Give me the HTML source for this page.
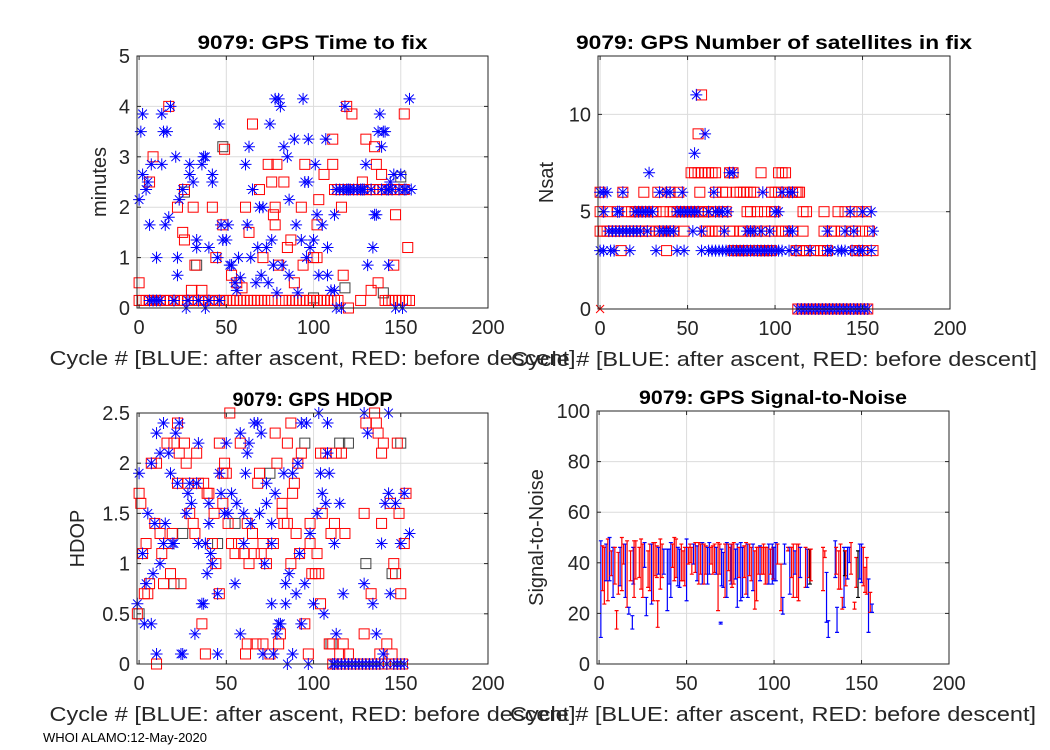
<!DOCTYPE html>
<html><head><meta charset="utf-8"><style>
body{margin:0;background:#fff;}
svg{display:block;font-family:"Liberation Sans",Arial,sans-serif;}
</style></head><body>
<svg id="fig" width="1050" height="750" viewBox="0 0 1050 750" xmlns="http://www.w3.org/2000/svg"></svg>
<script>
// ---------- Data ----------
const timeBlue = [[0,2.15],[1,3.5],[2,3.85],[2,2.65],[4,2.35],[5,2.5],[6,1.65],[7,2.85],[10,1.0],[13,2.85],[13,3.85],[14,3.5],[15,1.65],[16,3.5],[17,1.8],[18,4.0],[21,3.0],[22,0.65],[22,1.0],[23,2.15],[25,2.35],[27,0.0],[29,2.65],[29,2.85],[31,2.5],[33,1.35],[33,1.2],[36,2.85],[37,3.0],[38,0.0],[38,3.0],[40,1.2],[42,2.5],[42,2.65],[45,1.0],[46,3.65],[47,1.65],[48,1.35],[50,1.35],[51,1.65],[52,0.85],[53,0.85],[55,0.5],[56,0.35],[57,1.0],[58,0.6],[61,2.85],[62,1.65],[63,3.2],[64,1.0],[65,2.35],[67,0.5],[68,1.2],[69,2.0],[70,0.65],[71,2.0],[73,1.2],[74,0.5],[75,3.65],[76,1.35],[77,0.85],[78,4.15],[79,0.3],[80,4.15],[81,4.0],[82,0.85],[83,3.2],[85,3.0],[86,2.15],[86,0.65],[89,3.35],[90,1.65],[91,0.3],[93,1.35],[94,4.15],[95,2.5],[96,1.0],[97,2.5],[97,3.35],[98,1.2],[100,1.35],[101,2.85],[102,1.85],[103,0.65],[105,1.65],[107,3.35],[108,1.2],[108,0.65],[110,0.35],[112,0.35],[113,0.0],[112,1.85],[115,2.35],[116,0.0],[118,4.0],[120,2.35],[125,2.35],[128,2.35],[130,2.85],[131,0.85],[134,1.2],[135,1.85],[136,1.85],[137,3.5],[138,3.85],[139,3.2],[140,3.5],[141,3.5],[142,2.35],[143,0.85],[144,2.5],[145,2.35],[146,2.65],[147,0.0],[150,2.65],[151,0.0],[152,2.35],[155,4.15],
[113,2.35],[117,2.35],[119,2.35],[121,2.35],[123,2.35],[127,2.35],[129,2.35],[133,2.35],[139,2.35],[143,2.35],[149,2.35],[153,2.35],[156,2.35],
[6,0.15],[8,0.15],[10,0.15],[12,0.15],[20,0.15],[28,0.15],[34,0.15],[40,0.15],[46,0.15]];
const timeRed = [[0,0.5],[8,3.0],[6,2.5],[17,4.0],[22,2.0],[25,1.5],[26,1.35],[26,2.35],[30,0.35],[31,2.0],[32,0.85],[36,0.35],[42,2.0],[44,1.0],[48,1.65],[49,3.15],[53,0.65],[56,0.5],[59,0.4],[61,2.0],[63,1.5],[65,3.65],[69,2.35],[71,1.0],[74,2.85],[76,2.5],[77,1.85],[78,1.65],[78,2.0],[79,2.85],[80,0.85],[83,2.5],[85,1.2],[87,1.35],[89,0.5],[93,2.0],[94,0.85],[95,2.85],[100,1.0],[102,1.0],[102,1.65],[103,2.15],[106,2.65],[111,2.85],[111,3.35],[116,2.0],[117,0.65],[119,4.0],[120,0.0],[122,3.85],[127,0.15],[128,2.5],[130,3.35],[133,0.35],[135,3.2],[136,2.85],[137,0.5],[139,2.65],[146,0.85],[147,1.85],[152,3.85],[154,1.2],
[0,0.15],[2,0.15],[4,0.15],[6,0.15],[8,0.15],[10,0.15],[12,0.15],[14,0.15],[16,0.15],[18,0.15],[20,0.15],[22,0.15],[24,0.15],[26,0.15],[28,0.15],[30,0.15],[32,0.15],[34,0.15],[36,0.15],[38,0.15],[40,0.15],[42,0.15],[44,0.15],[46,0.15],[48,0.15],[50,0.15],[52,0.15],[54,0.15],[56,0.15],[58,0.15],[60,0.15],[62,0.15],[64,0.15],[66,0.15],[68,0.15],[70,0.15],[72,0.15],[74,0.15],[76,0.15],[82,0.15],[84,0.15],[86,0.15],[88,0.15],[90,0.15],[92,0.15],[94,0.15],[96,0.15],[98,0.15],[100,0.15],[102,0.15],[104,0.15],[106,0.15],[108,0.15],[110,0.15],[112,0.15],[114,0.15],[141,0.15],[143,0.15],[145,0.15],[147,0.15],[149,0.15],[151,0.15],[153,0.15],[155,0.15],
[112,2.35],[114,2.35],[116,2.35],[118,2.35],[120,2.35],[122,2.35],[124,2.35],[126,2.35],[128,2.35],[130,2.35],[132,2.35],[134,2.35],[136,2.35],[138,2.35],[140,2.35],[142,2.35],[144,2.35],[146,2.35],[148,2.35],[150,2.35],[152,2.35]];
const timeBlack = [[26,2.3],[33,0.85],[48,3.2],[100,0.2],[118,0.4],[140,0.3],[150,2.6]];

const satLevels = [0,3,4,5,6,7,8,9,11];
const satBlueCycles = [
 [113,115,117,119,121,123,125,127,129,131,133,135,137,139,141,143,145,147,149,151,153],
 [0,2,6,8,17,32,44,48,58,62,64,66,68,70,72,74,76,78,80,82,84,86,88,90,92,94,96,98,100,102,104,108,112,120,130,132,136,138,140,144,148,150,155],
 [5,7,9,11,13,15,17,19,21,23,27,34,36,38,40,42,53,58,71,84,86,88,92,97,108,110,130,140,145,156],
 [2,10,11,20,22,24,26,28,30,44,46,48,50,52,54,56,62,66,68,70,73,100,102,143,150,155],
 [0,2,4,13,34,38,40,47,65,93,104,108,110],
 [28,74,76],[54],[60],[55]];
const satRedCycles = [
 [113,115,117,119,121,123,125,127,129,131,133,135,137,139,141,143,145,149,151,153],
 [12,38,76,78,80,82,84,90,92,94,96,98,112,114,116,118,122,126,128,130,146,148,150,156],
 [0,2,4,6,8,10,12,14,16,18,20,22,24,26,28,32,34,36,40,42,48,60,62,64,66,68,74,76,80,82,86,90,94,98,102,104,106,110,116,128,132,134,138,144,146,150,154],
 [0,4,10,16,18,20,22,24,26,30,32,36,40,42,44,46,48,50,52,54,56,58,60,62,64,70,72,84,86,90,94,98,100,116,118,128,136,140,144,148,152],
 [0,13,25,33,40,45,57,66,70,72,78,80,82,84,86,88,98,100,102,106,110,112,113,114],
 [52,54,56,58,60,62,64,66,74,76,92,102,104,106],[],[56],[58]];

const hdopBlue = [[0,1.9],[-1,0.6],[2,1.1],[3,0.4],[4,0.8],[5,1.5],[7,0.4],[7,2.0],[8,0.9],[9,1.4],[10,0.1],[10,2.3],[12,2.1],[12,1.0],[14,2.4],[14,1.2],[15,1.4],[17,2.1],[18,1.9],[19,1.2],[20,1.2],[21,2.3],[22,1.8],[23,2.4],[24,0.1],[25,0.1],[27,1.5],[28,1.7],[29,1.8],[30,1.6],[32,0.3],[33,1.8],[34,2.2],[34,1.2],[36,0.6],[37,0.6],[38,1.2],[39,0.9],[40,1.6],[40,1.4],[41,1.1],[42,1.0],[45,0.1],[45,0.7],[46,1.9],[47,1.7],[49,1.5],[50,2.2],[51,1.5],[53,1.7],[55,0.8],[56,1.6],[58,2.3],[58,0.3],[60,1.2],[60,1.5],[61,1.9],[62,2.1],[63,2.2],[64,1.4],[66,2.4],[68,2.4],[69,1.5],[70,2.3],[71,0.1],[72,1.0],[73,1.6],[73,1.8],[76,1.2],[76,1.4],[76,0.6],[77,0.1],[78,1.7],[79,0.3],[80,0.4],[81,0.4],[83,1.9],[84,0.8],[84,0.6],[85,0.0],[86,0.9],[88,1.9],[88,0.1],[90,0.7],[91,2.0],[92,1.1],[93,0.4],[93,2.4],[95,0.8],[96,2.4],[97,0.0],[98,1.3],[100,0.6],[102,1.5],[103,2.5],[104,1.9],[105,1.7],[106,0.5],[107,1.6],[108,2.4],[108,2.1],[109,1.9],[111,0.0],[112,1.2],[113,0.3],[115,1.6],[117,0.7],[129,0.8],[129,2.5],[131,2.3],[134,0.6],[136,0.3],[139,1.2],[140,0.1],[141,1.6],[143,2.5],[143,1.7],[144,0.7],[147,1.6],[150,1.2],[152,1.7],[155,1.3],
[112,0],[114,0],[116,0],[118,0],[120,0],[122,0],[124,0],[126,0],[128,0],[130,0],[132,0],[134,0],[136,0],[138,0],[142,0],[146,0],[148,0],[150,0],[152,0]];
const hdopRed = [[-1,0.5],[0,1.7],[1,1.6],[2,1.1],[3,0.7],[4,1.2],[5,0.7],[6,0.8],[7,2.0],[9,1.4],[10,0.0],[10,2.0],[12,1.3],[13,1.1],[14,0.8],[16,2.2],[17,1.2],[18,0.9],[19,1.3],[20,2.2],[22,2.4],[22,1.8],[23,2.1],[24,0.8],[26,2.2],[27,2.0],[28,1.8],[29,1.5],[31,1.4],[32,1.3],[33,2.1],[34,1.8],[36,0.4],[37,1.8],[38,0.1],[39,1.7],[40,1.7],[42,1.2],[43,1.5],[44,1.0],[46,2.2],[46,0.7],[48,1.6],[48,1.9],[49,2.0],[50,1.9],[51,1.4],[52,2.5],[53,1.2],[55,1.1],[57,1.2],[58,2.2],[60,1.1],[61,0.1],[62,0.2],[62,1.4],[63,1.0],[65,1.3],[66,1.1],[67,0.2],[68,1.8],[69,1.9],[70,1.1],[71,0.2],[71,1.2],[73,1.0],[75,0.1],[77,1.2],[78,2.3],[79,2.0],[80,0.2],[81,0.3],[82,1.5],[82,1.6],[83,1.4],[85,2.2],[85,1.4],[87,1.0],[87,2.4],[88,1.7],[89,1.8],[90,1.3],[91,2.0],[92,1.1],[93,2.1],[95,0.4],[97,0.1],[98,1.4],[98,1.2],[99,0.9],[101,0.9],[102,1.1],[103,0.9],[104,0.6],[104,2.1],[105,1.5],[107,2.1],[109,0.2],[110,1.3],[111,0.2],[112,1.4],[113,2.1],[115,0.1],[116,2.1],[117,0.2],[118,1.3],[120,0.1],[129,0.3],[129,1.5],[130,2.4],[133,0.7],[135,2.5],[136,2.4],[137,2.3],[138,0.1],[139,1.4],[139,2.1],[140,2.2],[142,0.2],[144,1.6],[145,0.1],[146,1.0],[147,0.9],[148,2.2],[149,1.5],[150,0.7],[152,1.2],[153,1.7],
[111,0],[113,0],[115,0],[117,0],[119,0],[121,0],[123,0],[125,0],[127,0],[129,0],[131,0],[133,0],[135,0],[137,0],[139,0],[141,0],[143,0],[145,0],[147,0],[149,0],[151,0]];
const hdopBlack = [[0,0.5],[20,0.8],[25,1.3],[45,1.2],[55,1.4],[65,1.3],[75,1.9],[95,2.2],[110,0.2],[115,2.2],[120,2.2],[130,1.0],[135,0.0],[145,0.9],[150,2.2]];

const snrCycles = [1,2,3,4,5,6,7,8,9,10,11,12,13,14,15,16,17,18,19,19.5,20,21,23,24,25,26,27,28,29,30,31,32,33,33.5,34,35,36,37,39,40,41,42,43,44,45,46,47,48,49,50,51,52,53,54,55,56,57,58,59,60,61,62,63,64,65,66,67,68,69,69.5,70,71,72,73,74,75,75.5,76,77,78,79,80,81,82,83,84,85,86,87,88,89,90,91,92,93,94,95,96,97,98,99,99.5,100,101,102,104,105,106,108,109,110,111,112,113,114,115,118,119,120,120.5,121,128,129,130,131,135,135.5,136,137,138,139,140,140.5,141,142,143,144,146,147,148,149,150,151,152,153,154,155,156];
const snrHigh = [48.7,46.7,46.1,47.4,49.4,50,44.7,46.1,46.1,21.1,44.1,46.1,50,47.4,47.4,48.7,22.4,44.7,19.1,46.1,48.7,48.7,46.1,49.4,47.4,48,26.3,44.7,47.4,47.4,48,48,46.7,25,46.1,49.4,47.4,45.4,45.4,45.4,48,47.4,50,49.4,46.1,45.4,47.4,44.7,46.1,49.4,46.1,47.4,46.1,47.4,48,46.7,48,47.4,48,47.4,46.7,46.1,48,46.1,46.7,47.4,46.1,48,47.4,16.5,45.4,44.1,47.4,48,47.4,46.1,47.4,47.4,48,45.4,47.4,46.1,48,46.1,46.7,48,47.4,47.4,46.1,47.4,44.7,46.1,46.1,46.7,46.1,47.4,46.1,46.1,47.4,45.4,47.4,46.1,46.1,48,47.4,39.5,26.3,47.4,46.1,46.1,46.1,47.4,44.7,47.4,47.4,46.1,46.1,45.4,45.4,45.4,45.4,46.1,44.7,36.2,17.1,48.7,46.1,22.4,44.7,47.4,26.3,46.1,44.7,44.7,46.1,46.1,48,24.4,42.1,44.7,47.4,47.4,46.1,38.2,42.1,33.6,28.3,23.7];
const snrLow = [10.5,29,23.7,32.9,25,32.9,34.9,26.3,31.6,13.8,27.6,30.9,29,39.5,26.3,22.4,19.7,32.9,13.8,31.6,26.3,33.6,34.2,29.6,26.3,38.2,19.1,30.3,29,23.7,25,34.9,34.2,14.5,35.5,29.6,34.2,35.5,21.1,31.6,26.3,38.2,32.9,34.2,30.9,30.3,32.9,32.9,30.9,25,39.5,40.1,35.5,39.5,36.2,32.9,31.6,35.5,31.6,31.6,35.5,31.6,35.5,39.5,35.5,36.2,35.5,21.1,35.5,15.8,30.9,30.3,26.3,26.3,36.9,32.9,31.6,30.3,31.6,33.6,22.4,34.2,25,26.3,34.2,27.6,26.3,34.9,32.9,29,21.7,25,35.5,32.9,35.5,35.5,31.6,31.6,31.6,35.5,31.6,33.6,32.9,32.9,39.5,21.1,19.7,39.5,44.7,27.6,34.2,26.3,35.5,26.3,25,34.2,30.3,30.3,34.2,31.6,32.9,29,42.1,16.5,10.5,34.2,35.5,12.5,29.6,29.6,21.7,22.4,34.9,30.9,33.6,40.1,35.5,21.7,30.3,26.3,33.6,32.2,30.9,28.3,27.6,12.5,20.4,20.4];
const snrColor = ("brrbrbrbrr"+"rbrrbrbrbb"+"rrrrrbbrrb"+"rrrrbrrbbb"+"brrrbbrrrb"+"rrrbrbrrbr"+"rbbrrrbrrb"+"bbrbrrbrrb"+"brbbrrbrrb"+"rrrbrrrrbr"+"brbbrrbbrb"+"rrbrrbrbrk"+"rrrbbbrbrr"+"rbkrbbrrrk"+"bbrrrbrb").split('');
const xTicks = [0,50,100,150,200];

// ---------- Drawing ----------
const NS="http://www.w3.org/2000/svg";
const svg=document.getElementById('fig');
function mk(tag,attrs,parent){const e=document.createElementNS(NS,tag);for(const k in attrs)e.setAttribute(k,attrs[k]);(parent||svg).appendChild(e);return e;}
const COL={b:'#0000ff',r:'#ff0000',k:'#000000'};
const TXT='#262626';

function makeAxes(ax){
  const g=mk('g',{});
  
  
  ax.sx=v=>ax.x0+(v-ax.xmin)/(ax.xmax-ax.xmin)*(ax.x1-ax.x0);
  ax.sy=v=>ax.y1-(v-ax.ymin)/(ax.ymax-ax.ymin)*(ax.y1-ax.y0);
  mk('rect',{x:ax.x0,y:ax.y0,width:ax.x1-ax.x0,height:ax.y1-ax.y0,fill:'#fff'},g);
  const grid=mk('g',{stroke:'#dcdcdc','stroke-width':1},g);
  
  
  xTicks.forEach(t=>{const x=ax.sx(t);mk('line',{x1:x,x2:x,y1:ax.y0,y2:ax.y1},grid);});
  ax.yTicks.forEach(t=>{const y=ax.sy(t);mk('line',{x1:ax.x0,x2:ax.x1,y1:y,y2:y},grid);});
  ax.g=g;
  const plot=mk('g',{},g);
  
  
  ax.plot=plot;
  return ax;
}
function finishAxes(ax){
  const g=ax.g;
  const fr=mk('g',{stroke:'#262626','stroke-width':1,fill:'none'},g);
  mk('rect',{x:ax.x0,y:ax.y0,width:ax.x1-ax.x0,height:ax.y1-ax.y0},fr);
  xTicks.forEach(t=>{const x=ax.sx(t);
    mk('line',{x1:x,x2:x,y1:ax.y1,y2:ax.y1-4},fr);mk('line',{x1:x,x2:x,y1:ax.y0,y2:ax.y0+4},fr);
    const tx=mk('text',{x:x,y:ax.y1+26,'text-anchor':'middle','font-size':20,fill:TXT},g);
    
    
    tx.textContent=t;});
  ax.yTicks.forEach((t,i)=>{const y=ax.sy(t);
    mk('line',{x1:ax.x0,x2:ax.x0+4,y1:y,y2:y},fr);mk('line',{x1:ax.x1,x2:ax.x1-4,y1:y,y2:y},fr);
    const tx=mk('text',{x:ax.x0-7,y:y+7,'text-anchor':'end','font-size':20,fill:TXT},g);
    
    
    tx.textContent=ax.yLabels[i];});
  const cx=(ax.x0+ax.x1)/2;
  const ti=mk('text',{x:cx,y:ax.y0-7,'text-anchor':'middle','font-size':19,'font-weight':'bold',fill:'#000',textLength:ax.titleW,lengthAdjust:'spacingAndGlyphs'},g);
  
  
  ti.textContent=ax.title;
  const xl=mk('text',{x:cx,y:ax.y1+57,'text-anchor':'middle','font-size':20,fill:TXT,textLength:526,lengthAdjust:'spacingAndGlyphs'},g);
  
  
  xl.textContent='Cycle #  [BLUE: after ascent, RED: before descent]';
  const cy=(ax.y0+ax.y1)/2;
  const yl=mk('text',{x:ax.ylx,y:cy,'text-anchor':'middle','font-size':20,fill:TXT,transform:`rotate(-90 ${ax.ylx} ${cy})`},g);
  
  
  yl.textContent=ax.ylabel;
}
function square(ax,c,v,col){
  const r=mk('rect',{x:ax.sx(c)-5,y:ax.sy(v)-5,width:10,height:10,fill:'none',stroke:col,'stroke-width':1},ax.plot);
  
  
}
function star(ax,c,v,col){
  const x=ax.sx(c),y=ax.sy(v),s=6,d=4.3;
  const p=mk('path',{d:`M${x-s} ${y}H${x+s}M${x} ${y-s}V${y+s}M${x-d} ${y-d}L${x+d} ${y+d}M${x-d} ${y+d}L${x+d} ${y-d}`,stroke:col,'stroke-width':1,fill:'none'},ax.plot);
  
  
}

// Plot 1: time to fix
const a1=makeAxes({name:'time-to-fix-axes',x0:137,x1:488,y0:56,y1:308,xmin:-1.2,xmax:200,ymin:0,ymax:5,yTicks:[0,1,2,3,4,5],yLabels:['0','1','2','3','4','5'],title:'9079: GPS Time to fix',titleW:230,ylabel:'minutes',ylx:106});
timeBlack.forEach(p=>square(a1,p[0],p[1],'#404040'));
timeRed.forEach(p=>square(a1,p[0],p[1],COL.r));
timeBlue.forEach(p=>star(a1,p[0],p[1],COL.b));
finishAxes(a1);

// Plot 2: Nsat
const a2=makeAxes({name:'nsat-axes',x0:598,x1:950,y0:56,y1:309,xmin:-1.2,xmax:200,ymin:0,ymax:13,yTicks:[0,5,10],yLabels:['0','5','10'],title:'9079: GPS Number of satellites in fix',titleW:396,ylabel:'Nsat',ylx:553});
satRedCycles.forEach((arr,i)=>arr.forEach(c=>square(a2,c,satLevels[i],COL.r)));
satBlueCycles.forEach((arr,i)=>arr.forEach(c=>star(a2,c,satLevels[i],COL.b)));
{const x=a2.sx(0),y=a2.sy(0);const m=mk('path',{d:`M${x-4} ${y-4}L${x+4} ${y+4}M${x-4} ${y+4}L${x+4} ${y-4}`,stroke:COL.r,'stroke-width':1},a2.plot);

}
finishAxes(a2);

// Plot 3: HDOP
const a3=makeAxes({name:'hdop-axes',x0:137,x1:488,y0:413,y1:664,xmin:-1.2,xmax:200,ymin:0,ymax:2.5,yTicks:[0,0.5,1,1.5,2,2.5],yLabels:['0','0.5','1','1.5','2','2.5'],title:'9079: GPS HDOP',titleW:160,ylabel:'HDOP',ylx:84});
hdopBlack.forEach(p=>square(a3,p[0],p[1],'#404040'));
hdopRed.forEach(p=>square(a3,p[0],p[1],COL.r));
hdopBlue.forEach(p=>star(a3,p[0],p[1],COL.b));
finishAxes(a3);

// Plot 4: SNR
const a4=makeAxes({name:'snr-axes',x0:597,x1:949,y0:411,y1:664,xmin:-1.2,xmax:200,ymin:0,ymax:100,yTicks:[0,20,40,60,80,100],yLabels:['0','20','40','60','80','100'],title:'9079: GPS Signal-to-Noise',titleW:268,ylabel:'Signal-to-Noise',ylx:543});
snrCycles.forEach((c,i)=>{
  const col=COL[snrColor[i]]||COL.b;const x=a4.sx(c),yh=a4.sy(snrHigh[i]),yl=a4.sy(snrLow[i]);
  const p=mk('path',{d:`M${x} ${yh}V${yl}M${x-2} ${yh}H${x+2}M${x-2} ${yl}H${x+2}`,stroke:col,'stroke-width':1.2,fill:'none'},a4.plot);
  
  
});
finishAxes(a4);

const ft=mk('text',{x:43,y:742,'font-size':13,fill:'#000'});


ft.textContent='WHOI ALAMO:12-May-2020';
</script>
</body></html>
